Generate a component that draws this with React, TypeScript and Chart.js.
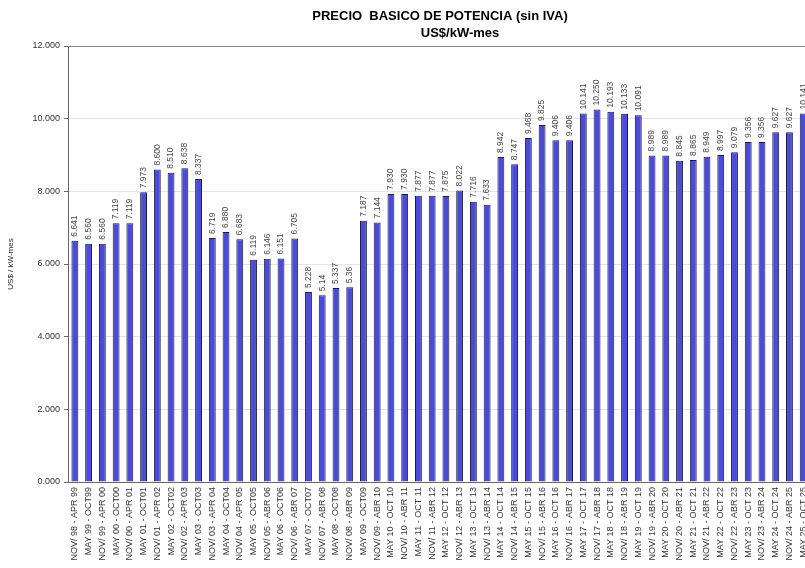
import React, { useEffect, useRef } from "react";
import { Chart, registerables } from "chart.js";

Chart.register(...registerables);

const categories: string[] = [
  "NOV/ 98 - APR 99", "MAY 99 - OCT99", "NOV/ 99 - APR 00", "MAY 00 - OCT00", "NOV/ 00 - APR 01",
  "MAY 01 - OCT01", "NOV/ 01 - APR 02", "MAY 02 - OCT02", "NOV/ 02 - APR 03", "MAY 03 - OCT03",
  "NOV/ 03 - APR 04", "MAY 04 - OCT04", "NOV/ 04 - APR 05", "MAY 05 - OCT05", "NOV/ 05 - ABR 06",
  "MAY 06 - OCT06", "NOV/ 06 - ABR 07", "MAY 07 - OCT07", "NOV/ 07 - ABR 08", "MAY 08 - OCT08",
  "NOV/ 08 - ABR 09", "MAY 09 - OCT09", "NOV/ 09 - ABR 10", "MAY 10 - OCT 10", "NOV/ 10 - ABR 11",
  "MAY 11 - OCT 11", "NOV/ 11 - ABR 12", "MAY 12 - OCT 12", "NOV/ 12 - ABR 13", "MAY 13 - OCT 13",
  "NOV/ 13 - ABR 14", "MAY 14 - OCT 14", "NOV/ 14 - ABR 15", "MAY 15 - OCT 15", "NOV/ 15 - ABR 16",
  "MAY 16 - OCT 16", "NOV/ 16 - ABR 17", "MAY 17 - OCT 17", "NOV/ 17 - ABR 18", "MAY 18 - OCT 18",
  "NOV/ 18 - ABR 19", "MAY 19 - OCT 19", "NOV/ 19 - ABR 20", "MAY 20 - OCT 20", "NOV/ 20 - ABR 21",
  "MAY 21 - OCT 21", "NOV/ 21 - ABR 22", "MAY 22 - OCT 22", "NOV/ 22 - ABR 23", "MAY 23 - OCT 23",
  "NOV/ 23 - ABR 24", "MAY 24 - OCT 24", "NOV/ 24 - ABR 25", "MAY 25 - OCT 25",
];

const values: number[] = [
  6.641, 6.56, 6.56, 7.119, 7.119, 7.973, 8.6, 8.51, 8.638, 8.337,
  6.719, 6.88, 6.683, 6.119, 6.146, 6.151, 6.705, 5.228, 5.14, 5.337,
  5.36, 7.187, 7.144, 7.93, 7.93, 7.877, 7.877, 7.875, 8.022, 7.716,
  7.633, 8.942, 8.747, 9.468, 9.825, 9.406, 9.406, 10.141, 10.25, 10.193,
  10.133, 10.091, 8.989, 8.989, 8.845, 8.865, 8.949, 8.997, 9.079, 9.356,
  9.356, 9.627, 9.627, 10.141,
];

const valueLabels: string[] = [
  "6.641", "6.560", "6.560", "7.119", "7.119", "7.973", "8.600", "8.510", "8.638", "8.337",
  "6.719", "6.880", "6.683", "6.119", "6.146", "6.151", "6.705", "5.228", "5.14", "5.337",
  "5.36", "7.187", "7.144", "7.930", "7.930", "7.877", "7.877", "7.875", "8.022", "7.716",
  "7.633", "8.942", "8.747", "9.468", "9.825", "9.406", "9.406", "10.141", "10.250", "10.193",
  "10.133", "10.091", "8.989", "8.989", "8.845", "8.865", "8.949", "8.997", "9.079", "9.356",
  "9.356", "9.627", "9.627", "10.141",
];

const titleLines: string[] = ["PRECIO  BASICO DE POTENCIA (sin IVA)", "US$/kW-mes"];
const yAxisTitle = "US$ / kW-mes";

const FONT = "'Liberation Sans', Arial, sans-serif";

export default function App() {
  const ref = useRef<HTMLCanvasElement | null>(null);

  useEffect(() => {
    if (!ref.current) return;

    const extras = {
      id: "extras",
      afterDatasetsDraw(chart: any) {
        const ctx = chart.ctx;
        const meta = chart.getDatasetMeta(0);
        ctx.save();
        ctx.font = `8.5px ${FONT}`;
        ctx.fillStyle = "#444";
        ctx.textAlign = "left";
        ctx.textBaseline = "middle";
        meta.data.forEach((bar: any, i: number) => {
          ctx.save();
          ctx.translate(bar.x, bar.y - 4);
          ctx.rotate(-Math.PI / 2);
          ctx.fillText(valueLabels[i], 0, 0);
          ctx.restore();
        });
        ctx.restore();
      },
      afterDraw(chart: any) {
        const ctx = chart.ctx;
        const a = chart.chartArea;
        ctx.save();
        ctx.strokeStyle = "#888";
        ctx.lineWidth = 1;
        ctx.beginPath();
        ctx.moveTo(a.left, a.top + 0.5);
        ctx.lineTo(a.right, a.top + 0.5);
        ctx.stroke();
        const cx = 440;
        ctx.fillStyle = "#000";
        ctx.textAlign = "center";
        ctx.textBaseline = "middle";
        ctx.font = `bold 13px ${FONT}`;
        ctx.fillText(titleLines[0], cx, 16);
        ctx.fillText(titleLines[1], cx + 20, 33);
        ctx.restore();
      },
    };

    const chart = new Chart(ref.current, {
      type: "bar",
      data: {
        labels: categories,
        datasets: [
          {
            data: values,
            backgroundColor: "#4B4BD8",
            borderColor: "#1c1c3c",
            borderWidth: 1,
            barPercentage: 0.5,
            categoryPercentage: 1,
          },
        ],
      },
      options: {
        responsive: false,
        animation: false,
        layout: { padding: { top: 46, left: 0, right: 0, bottom: 0 } },
        plugins: {
          legend: { display: false },
          title: { display: false },
          tooltip: { enabled: false },
        },
        scales: {
          x: {
            grid: { display: false, drawTicks: false },
            border: { color: "#666" },
            ticks: {
              autoSkip: false,
              maxRotation: 90,
              minRotation: 90,
              padding: 5,
              color: "#333",
              font: { size: 9, family: FONT },
            },
            afterFit(scale: any) {
              scale.height = 86;
            },
          },
          y: {
            min: 0,
            max: 12,
            ticks: {
              stepSize: 2,
              color: "#333",
              padding: 4,
              font: { size: 9, family: FONT },
              callback: (v: any) => Number(v).toFixed(3),
            },
            grid: { color: "#e4e4e4", tickLength: 4, tickColor: "#666" },
            border: { color: "#666" },
            title: {
              display: true,
              text: yAxisTitle,
              color: "#222",
              padding: { top: 6, bottom: 0 },
              font: { size: 8, family: FONT },
            },
            afterFit(scale: any) {
              scale.width = 68;
            },
          },
        },
      },
      plugins: [extras],
    });

    return () => chart.destroy();
  }, []);

  return (
    <div
      style={{
        position: "absolute",
        left: 0,
        top: 0,
        width: 805,
        height: 568,
        overflow: "hidden",
        background: "#fff",
      }}
    >
      <canvas ref={ref} width={819} height={568} />
    </div>
  );
}
